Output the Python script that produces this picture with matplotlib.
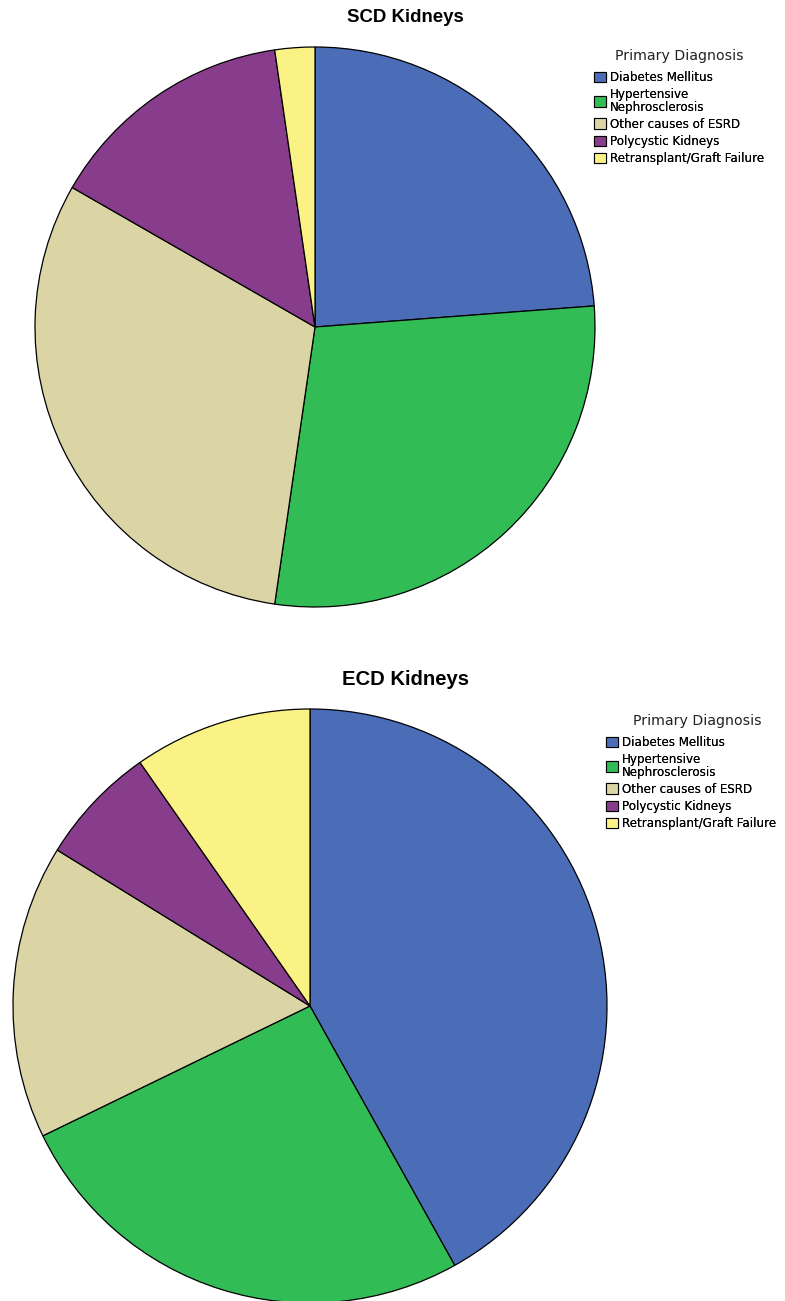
import matplotlib.pyplot as plt
from matplotlib.patches import Patch

plt.rcParams['font.family'] = ['Liberation Sans', 'DejaVu Sans']

W, H = 785, 1301

# Data (percent of each group)
categories = ["Diabetes Mellitus", "Hypertensive\nNephrosclerosis",
              "Other causes of ESRD", "Polycystic Kidneys",
              "Retransplant/Graft Failure"]
scd_values = [23.8, 28.5, 31.0, 14.4, 2.3]
ecd_values = [41.9, 25.9, 16.0, 6.5, 9.7]
colors = ["#4B6CB7", "#32BC56", "#DBD5A6", "#883D8C", "#FBF285"]

fig = plt.figure(figsize=(W / 100, H / 100), dpi=100)
ax = fig.add_axes([0, 0, 1, 1])

wedge_style = dict(edgecolor="black", linewidth=0.9)

# SCD pie
ax.pie(scd_values, colors=colors, startangle=90, counterclock=False,
       center=(315, H - 327), radius=280, wedgeprops=wedge_style, frame=True)
# ECD pie
ax.pie(ecd_values, colors=colors, startangle=90, counterclock=False,
       center=(310, H - 1006), radius=297, wedgeprops=wedge_style, frame=True)
ax.set_xlim(0, W)
ax.set_ylim(0, H)
ax.set_aspect("equal")
ax.axis("off")

ax.text(405, H - 22, "SCD Kidneys", ha="center", va="baseline",
        fontsize=13.4, fontweight="bold")
ax.text(406, H - 685, "ECD Kidneys", ha="center", va="baseline",
        fontsize=14.6, fontweight="bold")

handles = [Patch(facecolor=c, edgecolor="black", linewidth=0.8) for c in colors]

# (legend title centre x, title baseline y, handle left x, first row top y)
legend_spots = [(679, 60, 594, 71), (697, 725, 606, 736)]
for tx, ty, x0, y0 in legend_spots:
    ax.text(tx, H - ty, "Primary Diagnosis", ha="center", va="baseline",
            fontsize=10.2, family="DejaVu Sans", color="#222222")
    leg = fig.legend(handles, categories, loc="upper left",
                     bbox_to_anchor=(x0 / W, 1 - y0 / H), frameon=False,
                     prop={"family": "DejaVu Sans", "size": 8.6},
                     handlelength=1.0, handleheight=1.0,
                     handletextpad=0.3, labelspacing=0.35, borderpad=0,
                     borderaxespad=0)
    for t in leg.get_texts():
        t.set_linespacing(0.95)
    fig.add_artist(leg)

fig.savefig("out.png", dpi=100)
